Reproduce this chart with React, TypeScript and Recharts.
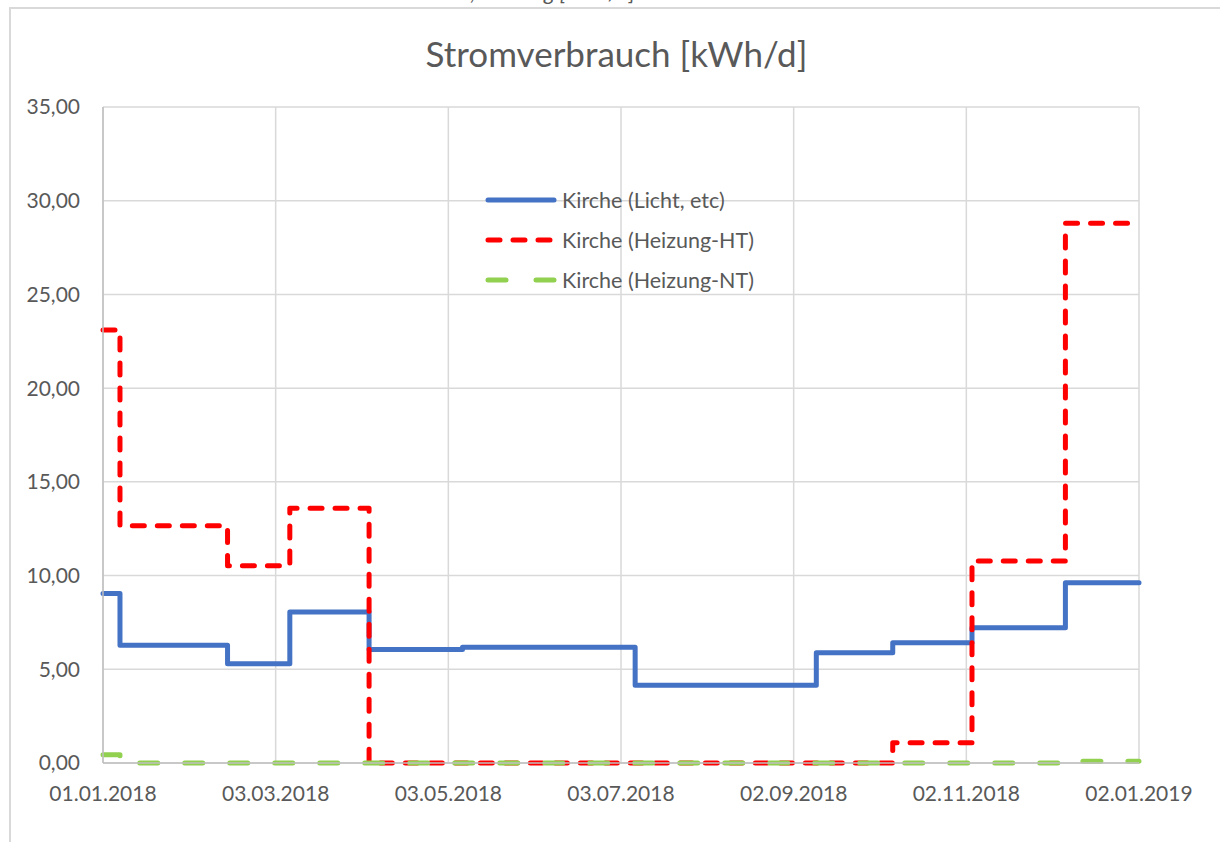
import React from 'react';
import { LineChart, Line, XAxis, YAxis, CartesianGrid } from 'recharts';

// day offsets from 01.01.2018 where a new reading period starts
const days = [0, 6, 44, 66, 94, 127, 188, 252, 279, 307, 340, 366];
const licht = [9.05, 6.28, 5.3, 8.06, 6.05, 6.17, 4.15, 5.88, 6.42, 7.22, 9.62, 9.62];
const heizungHT = [23.1, 12.66, 10.53, 13.59, 0, 0, 0, 0, 1.08, 10.78, 28.8, 28.8];
const heizungNT = [0.44, 0, 0, 0, 0, 0, 0, 0, 0, 0, 0.1, 0.1];

const xTicks = [0, 61, 122, 183, 244, 305, 366];
const xTickLabels = ['01.01.2018', '03.03.2018', '03.05.2018', '03.07.2018', '02.09.2018', '02.11.2018', '02.01.2019'];
const yTicks = [0, 5, 10, 15, 20, 25, 30, 35];

const series = [
  { key: 'licht', name: 'Kirche (Licht, etc)', color: '#4472C4', dash: undefined as string | undefined, legendDash: undefined as string | undefined },
  { key: 'ht', name: 'Kirche (Heizung-HT)', color: '#FF0000', dash: '12 13', legendDash: '12 13' },
  { key: 'nt', name: 'Kirche (Heizung-NT)', color: '#92D050', dash: '18 27', legendDash: '18 30' },
];

const data = days.map((d, i) => ({
  day: d,
  licht: licht[i],
  ht: heizungHT[i],
  nt: heizungNT[i],
}));

const font = 'Lato, "Open Sans", sans-serif';
const textColor = '#595959';

function LegendBox() {
  return (
    <div style={{ position: 'absolute', left: 484, top: 180, fontFamily: font, fontSize: 21.5, color: textColor }}>
      {series.map((s) => (
        <div key={s.key} style={{ display: 'flex', alignItems: 'center', height: 40 }}>
          <svg width={78} height={12} style={{ display: 'block' }}>
            <line
              x1={4}
              y1={6}
              x2={70}
              y2={6}
              stroke={s.color}
              strokeWidth={5}
              strokeLinecap="round"
              strokeDasharray={s.legendDash}
            />
          </svg>
          <span>{s.name}</span>
        </div>
      ))}
    </div>
  );
}

export default function App() {
  return (
    <div style={{ position: 'fixed', left: 0, top: 0, width: 1220, height: 842, background: '#fff', overflow: 'hidden' }}>
      <div
        style={{
          position: 'absolute',
          left: 0,
          width: 960,
          top: -22,
          textAlign: 'center',
          fontFamily: font,
          fontStyle: 'italic',
          fontSize: 22,
          color: textColor,
        }}
      >
        Stromverbrauch, Heizung [kWh/d]
      </div>
      <div
        style={{
          position: 'absolute',
          left: 9,
          top: 7,
          width: 1400,
          height: 1000,
          border: '2px solid #D9D9D9',
        }}
      />
      <div
        style={{
          position: 'absolute',
          left: 0,
          width: 1233,
          top: 32,
          textAlign: 'center',
          fontFamily: font,
          fontSize: 35,
          color: textColor,
        }}
      >
        Stromverbrauch [kWh/d]
      </div>
      <div style={{ position: 'absolute', left: 0, top: 0 }}>
        <LineChart width={1220} height={842} data={data} margin={{ top: 107, right: 81, left: 23, bottom: 0 }}>
          <CartesianGrid stroke="#D9D9D9" strokeWidth={1.5} />
          <XAxis
            dataKey="day"
            type="number"
            domain={[0, 366]}
            ticks={xTicks}
            tickFormatter={(v: number) => xTickLabels[xTicks.indexOf(v)] ?? ''}
            tickLine={false}
            tickSize={0}
            tickMargin={23}
            height={79}
            stroke="#BFBFBF"
            strokeWidth={1.5}
            tick={{ fill: textColor, fontSize: 21, fontFamily: font }}
          />
          <YAxis
            type="number"
            domain={[0, 35]}
            ticks={yTicks}
            tickFormatter={(v: number) => v.toFixed(2).replace('.', ',')}
            tickLine={false}
            tickSize={0}
            tickMargin={23}
            width={80}
            stroke="#BFBFBF"
            strokeWidth={1.5}
            tick={{ fill: textColor, fontSize: 21, fontFamily: font }}
          />
          {series.map((s) => (
            <Line
              key={s.key}
              type="stepAfter"
              dataKey={s.key}
              name={s.name}
              stroke={s.color}
              strokeWidth={5}
              strokeDasharray={s.dash}
              strokeLinecap="round"
              strokeLinejoin="round"
              dot={false}
              activeDot={false}
              isAnimationActive={false}
            />
          ))}
        </LineChart>
      </div>
      <LegendBox />
    </div>
  );
}
